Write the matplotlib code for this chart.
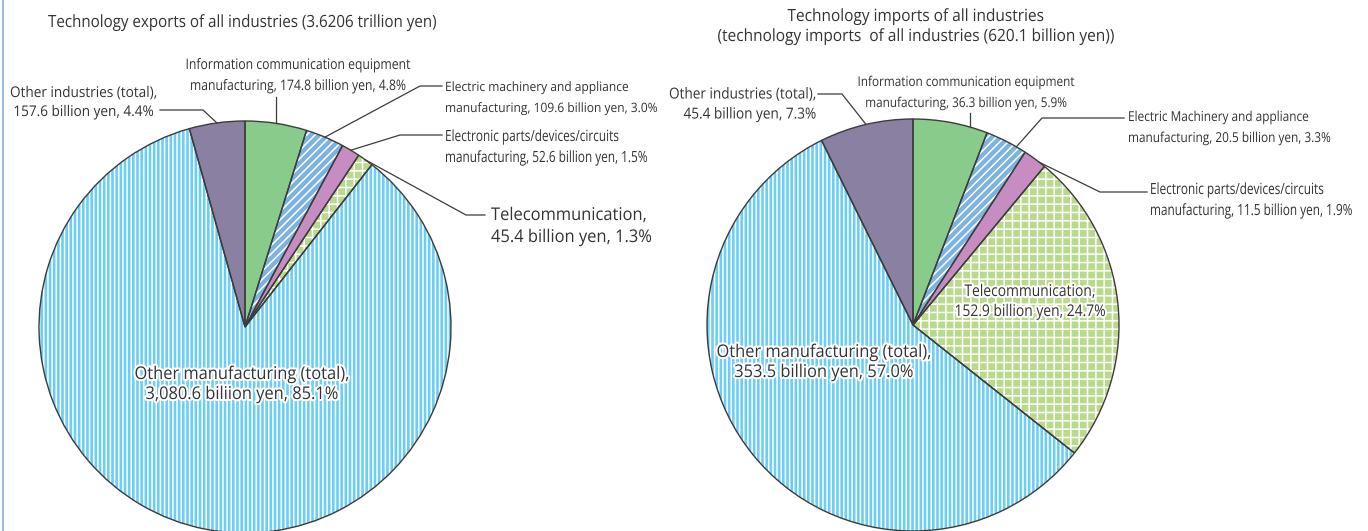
import matplotlib
matplotlib.use("Agg")
import matplotlib.pyplot as plt
import matplotlib.patheffects as pe
from matplotlib.lines import Line2D
from matplotlib.text import Text
from matplotlib.transforms import Affine2D, Bbox
from matplotlib.font_manager import FontProperties
import numpy as np

# ---------------- data ----------------
categories = ["Information communication equipment manufacturing",
              "Electric machinery and appliance manufacturing",
              "Electronic parts/devices/circuits manufacturing",
              "Telecommunication",
              "Other manufacturing (total)",
              "Other industries (total)"]
exports_bn = [174.8, 109.6, 52.6, 45.4, 3080.6, 157.6]
imports_bn = [36.3, 20.5, 11.5, 152.9, 353.5, 45.4]
exports_pct = [4.8, 3.0, 1.5, 1.3, 85.1, 4.4]
imports_pct = [5.9, 3.3, 1.9, 24.7, 57.0, 7.3]

title_exports = "Technology exports of all industries (3.6206 trillion yen)"
title_imports = ("Technology imports of all industries\n"
                 "(technology imports  of all industries (620.1 billion yen))")

labels_exports = [
    "Information communication equipment\nmanufacturing, 174.8 billion yen, 4.8%",
    "Electric machinery and appliance\nmanufacturing, 109.6 billion yen, 3.0%",
    "Electronic parts/devices/circuits\nmanufacturing, 52.6 billion yen, 1.5%",
    "Telecommunication,\n45.4 billion yen, 1.3%",
    "Other manufacturing (total),\n3,080.6 biliion yen, 85.1%",
    "Other industries (total),\n157.6 billion yen, 4.4%",
]
labels_imports = [
    "Information communication equipment\nmanufacturing, 36.3 billion yen, 5.9%",
    "Electric Machinery and appliance\nmanufacturing, 20.5 billion yen, 3.3%",
    "Electronic parts/devices/circuits\nmanufacturing, 11.5 billion yen, 1.9%",
    "Telecommunication,\n152.9 billion yen, 24.7%",
    "Other manufacturing (total),\n353.5 billion yen, 57.0%",
    "Other industries (total),\n45.4 billion yen, 7.3%",
]

# ---------------- style ----------------
colors = ["#88CB8A", "#7DB3E2", "#C78DC2", "#B9DA8C", "#6DCEF5", "#8A80A2"]
hatches = [None, "////", None, "++", "||||", None]
TXT = "#333333"
LINE = "#3c3c3c"
FONT = ["Open Sans", "DejaVu Sans"]
CAP = 0.714  # cap height / em for Open Sans

W, H = 1368, 531
plt.rcParams["hatch.color"] = "white"
plt.rcParams["hatch.linewidth"] = 1.1

fig = plt.figure(figsize=(W / 100, H / 100), dpi=100)
ax = fig.add_axes([0, 0, 1, 1])
ax.set_xlim(0, W)
ax.set_ylim(0, H)
renderer = fig.canvas.get_renderer()


def P(x, y):
    return (x, H - y)


class CondensedText(Text):
    """Real text whose glyphs are drawn slightly compressed horizontally."""

    def __init__(self, *args, sx=1.0, **kwargs):
        super().__init__(*args, **kwargs)
        self.sx = sx

    def anchor_x(self):
        return self.get_transform().transform(self.get_unitless_position())[0]

    def natural_width(self, r):
        return Text.get_window_extent(self, renderer=r).width

    def get_window_extent(self, renderer=None, dpi=None):
        bb = super().get_window_extent(renderer=renderer, dpi=dpi)
        x0 = self.anchor_x()
        f = lambda v: x0 + (v - x0) * self.sx
        return Bbox.from_extents(f(bb.x0), bb.y0, f(bb.x1), bb.y1)


class HScale(pe.AbstractPathEffect):
    def __init__(self, text, halo=0.0):
        super().__init__()
        self.text, self.halo = text, halo

    def draw_path(self, renderer, gc, tpath, affine, rgbFace=None):
        x0 = self.text.anchor_x()
        aff = affine + Affine2D().translate(-x0, 0).scale(self.text.sx, 1).translate(x0, 0)
        if self.halo:
            g = renderer.new_gc()
            g.copy_properties(gc)
            g.set_foreground("white")
            g.set_linewidth(self.halo)
            g.set_joinstyle("round")
            renderer.draw_path(g, tpath, aff, None)
            g.restore()
        renderer.draw_path(gc, tpath, aff, rgbFace)


def draw_pie(values, cx, cy, r):
    c = P(cx, cy)
    wedges, _ = ax.pie(values, colors=colors, startangle=90, counterclock=False,
                       radius=r, center=c,
                       wedgeprops=dict(edgecolor="none", linewidth=0))
    hw, _ = ax.pie(values, colors=["none"] * len(values), startangle=90,
                   counterclock=False, radius=r, center=c,
                   wedgeprops=dict(edgecolor="white", linewidth=0))
    for w, h in zip(hw, hatches):
        w.set_facecolor("none")
        if h:
            w.set_hatch(h)
        else:
            w.set_visible(False)
    ax.pie(values, colors=["none"] * len(values), startangle=90,
           counterclock=False, radius=r, center=c,
           wedgeprops=dict(edgecolor=LINE, linewidth=1.0, fill=False))
    return wedges, c, r


def anchor(w, c, r, frac):
    ang = np.deg2rad(w.theta2 - frac * (w.theta2 - w.theta1))
    return (c[0] + r * np.cos(ang), c[1] + r * np.sin(ang))


def set_size(t, size, pitch_px):
    t.set_fontsize(size)
    fp = t.get_fontproperties()
    _, lh, ld = renderer.get_text_width_height_descent("lp", fp, ismath=False)
    t.set_linespacing((pitch_px - ld) / (lh - ld))


def label(text, x, y, ha, malign, cap_px, width_px, pitch_px, halo=0.0, min_sx=0.7):
    size = cap_px / CAP * 72 / 100
    t = CondensedText(*P(x, y), text, ha=ha, va="center", multialignment=malign,
                      family=FONT, color=TXT)
    ax.add_artist(t)
    t.set_clip_on(False)
    set_size(t, size, pitch_px)
    sx = width_px / t.natural_width(renderer)
    if sx < min_sx:
        size *= sx / min_sx
        set_size(t, size, pitch_px)
        sx = width_px / t.natural_width(renderer)
    t.sx = sx
    t.set_path_effects([HScale(t, halo)])
    return t


def leader(pts_px, end):
    xs = [P(*p)[0] for p in pts_px] + [end[0]]
    ys = [P(*p)[1] for p in pts_px] + [end[1]]
    ax.add_line(Line2D(xs, ys, color=LINE, lw=0.9))


# ---------------- left pie: exports ----------------
wl, cl, rl = draw_pie(exports_bn, 245, 327, 206)
label(title_exports, 48, 23, "left", "left", 12, 387, 20)
label(labels_exports[5], 84, 103, "center", "center", 12, 148, 19, min_sx=0.93)
label(labels_exports[0], 298, 76, "center", "center", 11, 225, 21, min_sx=0.84)
label(labels_exports[1], 551.5, 98, "center", "left", 11, 213, 21, min_sx=0.93)
label(labels_exports[2], 445, 148, "left", "left", 11, 203, 21)
label(labels_exports[3], 491, 227, "left", "left", 12.5, 161, 22)
label(labels_exports[4], 242, 385, "center", "center", 12.5, 215, 20, halo=3)

a = anchor(wl[5], cl, rl, 0.5)
leader([(160, 110), (203, 110)], a)
a = anchor(wl[0], cl, rl, 0.5)
leader([(P(*a)[0], 97)], a)
a = anchor(wl[1], cl, rl, 0.5)
leader([(442, 86), (420, 86)], a)
a = anchor(wl[2], cl, rl, 0.5)
leader([(442, 135), (400, 135)], a)
a = anchor(wl[3], cl, rl, 0.5)
leader([(485, 215), (466, 215)], a)

# ---------------- right pie: imports ----------------
wr, cr, rr = draw_pie(imports_bn, 913, 325, 206)
label(title_imports, 915, 27, "center", "center", 12, 395, 20)
label(labels_imports[5], 669, 105, "left", "right", 12, 147, 20, min_sx=0.9)
label(labels_imports[0], 966, 93, "center", "center", 11, 217, 21, min_sx=0.87)
label(labels_imports[1], 1330, 128, "right", "left", 11, 202, 21, min_sx=0.86)
label(labels_imports[2], 1353, 201, "right", "left", 11, 203, 21)
label(labels_imports[3], 1030, 302, "center", "center", 11.5, 151, 20, halo=3)
label(labels_imports[4], 824, 363, "center", "center", 12.5, 215, 20, halo=3)

a = anchor(wr[5], cr, rr, 0.5)
leader([(818, 94), (842, 94)], a)
a = anchor(wr[0], cr, rr, 0.76)
leader([(P(*a)[0], 113)], a)
a = anchor(wr[1], cr, rr, 0.76)
leader([(1124, 118), (1042, 118)], a)
a = anchor(wr[2], cr, rr, 0.73)
leader([(1147, 192), (1100, 192)], a)

# left frame line
fig.add_artist(Line2D([2.5 / W, 2.5 / W], [0, 1], transform=fig.transFigure,
                      color="#86B3D3", lw=1.2))

ax.set_xlim(0, W)
ax.set_ylim(0, H)
ax.set_aspect("auto")
ax.axis("off")
fig.savefig("out.png", dpi=100)
